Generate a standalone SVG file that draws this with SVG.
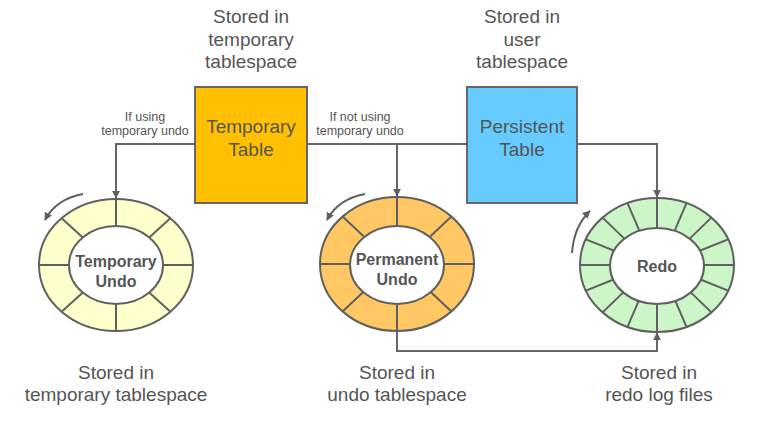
<svg xmlns="http://www.w3.org/2000/svg" width="768" height="426" viewBox="0 0 768 426">
<defs>
<marker id="arr" viewBox="0 0 10 10" refX="9" refY="5" markerWidth="4" markerHeight="4" orient="auto" markerUnits="strokeWidth">
<path d="M0,0 L10,5 L0,10 z" fill="#5f5f5f"/>
</marker>
<style>
.lbl{font-family:"Liberation Sans",Arial,sans-serif;font-size:19px;fill:#555;text-anchor:middle}
.sm{font-family:"Liberation Sans",Arial,sans-serif;font-size:12.5px;fill:#555;text-anchor:middle}
.ring{font-family:"Liberation Sans",Arial,sans-serif;font-size:16px;font-weight:bold;fill:#555;text-anchor:middle}
.box{stroke:#666;stroke-width:2}
.edge{fill:none;stroke:#666;stroke-width:2}
.rs{stroke:#606060;stroke-width:2}
.sp{stroke:#606060;stroke-width:2;fill:none}
.curl{fill:none;stroke:#606060;stroke-width:2}
</style>
</defs>
<rect width="768" height="426" fill="#ffffff"/>

<g id="connectors">
<path class="edge" d="M195,144 H116 V198" marker-end="url(#arr)"/>
<path class="edge" d="M307,144 H467"/>
<path class="edge" d="M397,144 V196" marker-end="url(#arr)"/>
<path class="edge" d="M577,144 H657 V197" marker-end="url(#arr)"/>
<path class="edge" d="M397,331 V351 H657 V333" marker-end="url(#arr)"/>
</g>

<g id="temporary-table">
<rect class="box" x="195" y="87" width="112" height="116" fill="#FFC000"/>
<text class="lbl" x="251" y="133">Temporary</text>
<text class="lbl" x="251" y="156">Table</text>
</g>

<g id="persistent-table">
<rect class="box" x="467" y="87" width="110" height="116" fill="#66CCFF"/>
<text class="lbl" x="522" y="133">Persistent</text>
<text class="lbl" x="522" y="156">Table</text>
</g>

<g id="temporary-undo">
<ellipse class="rs" cx="116" cy="265" rx="77" ry="66" fill="#FFFFCC"/>
<ellipse class="rs" cx="116" cy="265" rx="47" ry="39" fill="#ffffff"/>
<path class="sp" d="M163,265 L193,265 M149.2,292.6 L170.4,311.7 M116,304 L116,331 M82.8,292.6 L61.6,311.7 M69,265 L39,265 M82.8,237.4 L61.6,218.3 M116,226 L116,199 M149.2,237.4 L170.4,218.3"/>
<path class="curl" d="M83,194 Q56,199 45,220" marker-end="url(#arr)"/>
<text class="ring" x="116" y="267">Temporary</text>
<text class="ring" x="116" y="287">Undo</text>
</g>

<g id="permanent-undo">
<ellipse class="rs" cx="397" cy="264" rx="77" ry="67" fill="#FFC864"/>
<ellipse class="rs" cx="397" cy="265" rx="47" ry="39" fill="#ffffff"/>
<path class="sp" d="M444,264 L474,264 M430.2,291.6 L451.4,311.4 M397,304 L397,331 M363.8,291.6 L342.6,311.4 M350,264 L320,264 M363.8,236.4 L342.6,216.6 M397,226 L397,197 M430.2,236.4 L451.4,216.6"/>
<path class="curl" d="M365,194 Q338,199 327,220" marker-end="url(#arr)"/>
<text class="ring" x="397" y="265">Permanent</text>
<text class="ring" x="397" y="285">Undo</text>
</g>

<g id="redo">
<ellipse class="rs" cx="657" cy="265" rx="77" ry="67" fill="#CCF5C8"/>
<ellipse class="rs" cx="657" cy="266" rx="47" ry="38" fill="#ffffff"/>
<path class="sp" d="M704,265 L734,265 M700.4,279.5 L728.1,290.6 M690.2,291.9 L711.4,312.4 M675,300.1 L686.5,326.9 M657,304 L657,332 M639,300.1 L627.5,326.9 M623.8,291.9 L602.6,312.4 M613.6,279.5 L585.9,290.6 M610,265 L580,265 M613.6,250.5 L585.9,239.4 M623.8,238.1 L602.6,217.6 M639,229.9 L627.5,203.1 M657,228 L657,198 M675,229.9 L686.5,203.1 M690.2,238.1 L711.4,217.6 M700.4,250.5 L728.1,239.4"/>
<path class="curl" d="M572,253 Q574,226 590,211" marker-end="url(#arr)"/>
<text class="ring" x="657" y="272">Redo</text>
</g>

<g id="labels">
<text class="lbl" x="251" y="23">Stored in</text>
<text class="lbl" x="251" y="46">temporary</text>
<text class="lbl" x="251" y="68">tablespace</text>
<text class="lbl" x="522" y="23">Stored in</text>
<text class="lbl" x="522" y="46">user</text>
<text class="lbl" x="522" y="68">tablespace</text>
<text class="sm" x="145" y="121">If using</text>
<text class="sm" x="145" y="135">temporary undo</text>
<text class="sm" x="360" y="121">If not using</text>
<text class="sm" x="360" y="135">temporary undo</text>
<text class="lbl" x="116" y="379">Stored in</text>
<text class="lbl" x="116" y="401">temporary tablespace</text>
<text class="lbl" x="397" y="379">Stored in</text>
<text class="lbl" x="397" y="401">undo tablespace</text>
<text class="lbl" x="659" y="379">Stored in</text>
<text class="lbl" x="659" y="401">redo log files</text>
</g>
</svg>
